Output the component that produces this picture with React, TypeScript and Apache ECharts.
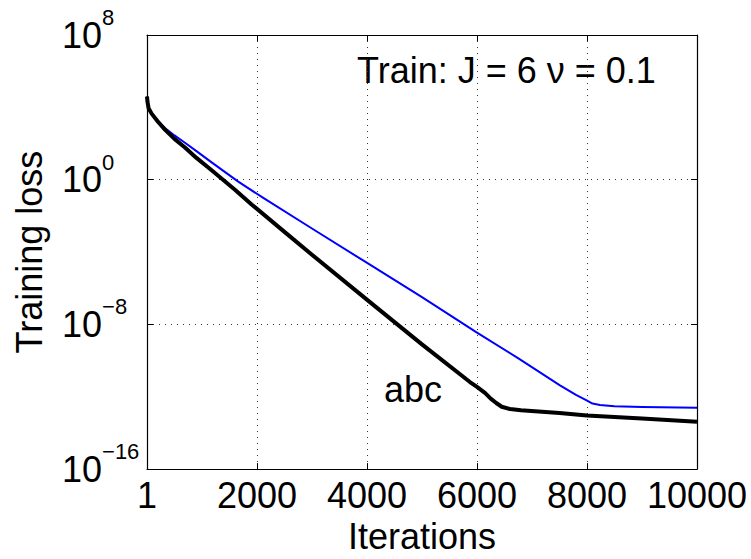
import React, { useEffect, useRef } from "react";
import * as echarts from "echarts";

// Iteration indices and training loss for the two runs
const iterBlack = [1, 10, 30, 85, 200, 327, 500, 691, 900, 1176, 1600, 1903, 2500, 3000, 4054, 5000, 5872, 6000, 6150, 6250, 6350, 6450, 6600, 6800, 7500, 8000, 9000, 10000];
const lossBlack = [4.0e4, 2.0e4, 8.9e3, 4.5e3, 1.6e3, 5.9e2, 1.8e2, 6.0e1, 1.6e1, 3.3, 2.8e-1, 4.3e-2, 1.3e-3, 7.1e-5, 1.7e-7, 7.9e-10, 6.5e-12, 3.5e-12, 1.6e-12, 7.9e-13, 4.5e-13, 2.8e-13, 2.1e-13, 1.8e-13, 1.26e-13, 9.3e-14, 6.3e-14, 4.1e-14];

const iterBlue = [1, 10, 30, 85, 200, 327, 500, 691, 900, 1176, 1660, 2115, 3000, 4054, 5000, 6000, 6781, 7509, 7800, 7994, 8100, 8236, 8500, 9000, 10000];
const lossBlue = [4.0e4, 2.0e4, 8.9e3, 4.8e3, 1.8e3, 7.2e2, 2.8e2, 1.1e2, 3.8e1, 9.1, 7.8e-1, 9.8e-2, 2.0e-3, 2.0e-5, 3.2e-7, 3.5e-9, 1.17e-10, 4.3e-12, 1.26e-12, 6.3e-13, 4.2e-13, 3.5e-13, 3.0e-13, 2.75e-13, 2.5e-13];

// Tick positions
const xTicks = [1, 2000, 4000, 6000, 8000, 10000];
const yTicks = [1e-16, 1e-8, 1, 1e8];

const titleText = "Train: J = 6 \u03bd = 0.1";
const curveLabel = "abc";
const xName = "Iterations";
const yName = "Training loss";

const FONT = "'Liberation Sans', Arial, Helvetica, sans-serif";

const zip = (xs: number[], ys: number[]) => xs.map((x, i) => [x, ys[i]]);

export default function App() {
  const ref = useRef<HTMLDivElement>(null);

  useEffect(() => {
    if (!ref.current) return;
    document.body.style.margin = "0";
    const chart = echarts.init(ref.current, null, { renderer: "svg" });

    const gridLine = { show: true, lineStyle: { color: "#333", width: 1, type: [1, 5] as any } };
    const tickIn = { show: true, inside: true, length: 6, lineStyle: { color: "#000", width: 1 } };
    const axisLine = { show: true, lineStyle: { color: "#000", width: 1.2 } };

    // 10 with a raised exponent
    const expLabel = (v: number) => {
      const e = Math.round(Math.log10(v));
      const s = e < 0 ? "\u2212" + -e : String(e);
      return "{b|10}{s|" + s + "}";
    };

    chart.setOption({
      animation: false,
      backgroundColor: "#fff",
      grid: { left: 147, top: 35, right: 54, bottom: 80, containLabel: false },
      xAxis: [
        {
          type: "value",
          position: "bottom",
          min: 1,
          max: 10000,
          axisLine,
          axisTick: { ...tickIn, customValues: xTicks },
          splitLine: gridLine,
          axisLabel: {
            customValues: xTicks,
            margin: 8,
            color: "#000",
            fontSize: 36,
            fontFamily: FONT,
            formatter: (v: number) => String(v),
          },
          name: xName,
          nameLocation: "middle",
          nameGap: 44,
          nameTextStyle: { color: "#000", fontSize: 36, fontFamily: FONT },
        },
        {
          type: "value",
          position: "top",
          min: 1,
          max: 10000,
          axisLine,
          axisTick: { ...tickIn, customValues: xTicks },
          splitLine: { show: false },
          axisLabel: { show: false },
        },
      ],
      yAxis: [
        {
          type: "log",
          logBase: 10,
          position: "left",
          min: 1e-16,
          max: 1e8,
          axisLine,
          axisTick: { ...tickIn, customValues: yTicks },
          splitLine: gridLine,
          minorTick: { show: false },
          axisLabel: {
            customValues: yTicks,
            align: "left",
            margin: 85,
            color: "#000",
            fontFamily: FONT,
            formatter: expLabel,
            rich: {
              b: { fontSize: 36, lineHeight: 36, fontFamily: FONT, color: "#000" },
              s: { fontSize: 22, lineHeight: 22, fontFamily: FONT, color: "#000", padding: [0, 0, 35, 0] },
            },
          },
          name: yName,
          nameLocation: "middle",
          nameGap: 100,
          nameTextStyle: { color: "#000", fontSize: 36, fontFamily: FONT },
        },
        {
          type: "log",
          logBase: 10,
          position: "right",
          min: 1e-16,
          max: 1e8,
          axisLine,
          axisTick: { ...tickIn, customValues: yTicks },
          splitLine: { show: false },
          axisLabel: { show: false },
        },
      ],
      series: [
        {
          type: "line",
          data: zip(iterBlue, lossBlue),
          showSymbol: false,
          smooth: false,
          lineStyle: { color: "#0000ff", width: 2, join: "round" },
          z: 2,
        },
        {
          type: "line",
          data: zip(iterBlack, lossBlack),
          showSymbol: false,
          smooth: false,
          lineStyle: { color: "#000", width: 4, join: "round" },
          z: 3,
        },
      ],
      graphic: [
        {
          type: "text",
          x: 357,
          y: 70.5,
          style: { text: titleText, fontSize: 36, fontFamily: FONT, fill: "#000", verticalAlign: "middle", align: "left" },
        },
        {
          type: "text",
          x: 384,
          y: 389,
          style: { text: curveLabel, fontSize: 36, fontFamily: FONT, fill: "#000", verticalAlign: "middle", align: "left" },
        },
      ],
    });

    return () => chart.dispose();
  }, []);

  return <div ref={ref} style={{ width: 751, height: 559 }} />;
}
